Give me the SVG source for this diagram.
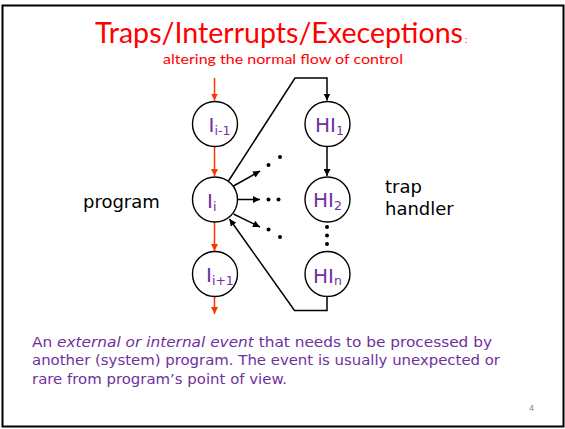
<svg xmlns="http://www.w3.org/2000/svg" width="565" height="429" viewBox="0 0 565 429">
<style>
.node circle{fill:#fff;stroke:#000;stroke-width:1.4}
.lbl{font-family:"DejaVu Sans",Verdana,sans-serif;font-size:20px;fill:#7030A0}
.sub{font-size:12.5px}
.blk{stroke:#000;stroke-width:1.5;fill:none}
.red{stroke:#FF3300;stroke-width:1.5;fill:none}
.dot{fill:#000}
.side{font-family:"DejaVu Sans",Verdana,sans-serif;font-size:18px;fill:#000}
.body{font-family:"DejaVu Sans",Verdana,sans-serif;font-size:14px;fill:#7030A0}
</style>
<defs>
<marker id="ab" viewBox="0 0 10 10" refX="10" refY="5" markerWidth="7" markerHeight="7" markerUnits="userSpaceOnUse" orient="auto"><path d="M0,0 L10,5 L0,10 z" fill="#000"/></marker>
<marker id="ar" viewBox="0 0 10 10" refX="10" refY="5" markerWidth="7" markerHeight="7" markerUnits="userSpaceOnUse" orient="auto"><path d="M0,0 L10,5 L0,10 z" fill="#FF3300"/></marker>
</defs>
<rect x="2.5" y="5.5" width="561" height="421" fill="#fff" stroke="#000" stroke-width="2"/>
<text x="95" y="43" font-family="Lato,'Open Sans',sans-serif" font-size="28" fill="#FF0000" textLength="368" lengthAdjust="spacingAndGlyphs">Traps/Interrupts/Execeptions</text>
<text x="465" y="43" font-family="Lato,sans-serif" font-size="9" fill="#FF0000">:</text>
<text x="163" y="64" font-family="Lato,'Open Sans',sans-serif" font-size="14" fill="#FF0000" textLength="240" lengthAdjust="spacingAndGlyphs">altering the normal flow of control</text>

<g id="connectors">
<line class="red" x1="214.5" y1="78" x2="214.5" y2="100.5" marker-end="url(#ar)"/>
<line class="red" x1="214.5" y1="147" x2="214.5" y2="176" marker-end="url(#ar)"/>
<line class="red" x1="214.5" y1="222" x2="214.5" y2="251" marker-end="url(#ar)"/>
<line class="red" x1="214.5" y1="297" x2="214.5" y2="314" marker-end="url(#ar)"/>
<polyline class="blk" points="228.5,181 295,78 327,78 327,100.5" marker-end="url(#ab)"/>
<line class="blk" x1="327" y1="147" x2="327" y2="176" marker-end="url(#ab)"/>
<line class="blk" x1="233.5" y1="186" x2="260" y2="171" marker-end="url(#ab)"/>
<line class="blk" x1="238" y1="199.5" x2="260" y2="199.5" marker-end="url(#ab)"/>
<line class="blk" x1="233.5" y1="214" x2="260" y2="227" marker-end="url(#ab)"/>
<polyline class="blk" points="327,297 327,310.5 294.5,310.5 229.5,219" marker-end="url(#ab)"/>
<circle class="dot" cx="268.5" cy="165" r="2"/>
<circle class="dot" cx="280" cy="157" r="2"/>
<circle class="dot" cx="268.5" cy="199.5" r="2"/>
<circle class="dot" cx="278.5" cy="199.5" r="2"/>
<circle class="dot" cx="268.5" cy="229.5" r="2"/>
<circle class="dot" cx="280" cy="237" r="2"/>
<circle class="dot" cx="327" cy="227" r="2"/>
<circle class="dot" cx="327" cy="235.5" r="2"/>
<circle class="dot" cx="327" cy="244" r="2"/>
</g>

<g id="n-i-1" class="node"><circle cx="215" cy="124" r="22.5"/><text class="lbl" x="208.5" y="131.5">I<tspan class="sub" dy="3">i-1</tspan></text></g>
<g id="n-i" class="node"><circle cx="215" cy="199.5" r="22.5"/><text class="lbl" x="207" y="208">I<tspan class="sub" dy="3">i</tspan></text></g>
<g id="n-i+1" class="node"><circle cx="215" cy="274" r="22.5"/><text class="lbl" x="206" y="281.5">I<tspan class="sub" dy="3">i+1</tspan></text></g>
<g id="n-hi1" class="node"><circle cx="327.5" cy="124" r="22.5"/><text class="lbl" x="315" y="131.5">HI<tspan class="sub" dy="3">1</tspan></text></g>
<g id="n-hi2" class="node"><circle cx="327.5" cy="199.5" r="22.5"/><text class="lbl" x="313" y="207">HI<tspan class="sub" dy="3">2</tspan></text></g>
<g id="n-hin" class="node"><circle cx="327.5" cy="274" r="22.5"/><text class="lbl" x="313" y="283">HI<tspan class="sub" dy="2">n</tspan></text></g>

<text class="side" x="83" y="208">program</text>
<text class="side" x="385" y="193">trap</text>
<text class="side" x="385" y="215">handler</text>

<text class="body" x="32" y="346.5" textLength="460" lengthAdjust="spacingAndGlyphs">An <tspan font-style="italic">external or internal event</tspan>  that needs to be processed by</text>
<text class="body" x="32" y="365" textLength="468" lengthAdjust="spacingAndGlyphs">another (system) program. The event is usually unexpected or</text>
<text class="body" x="32" y="383.5" textLength="255" lengthAdjust="spacingAndGlyphs">rare from program’s point of view.</text>
<text x="529" y="411" font-family="'Liberation Sans',sans-serif" font-size="9" fill="#888">4</text>
</svg>
